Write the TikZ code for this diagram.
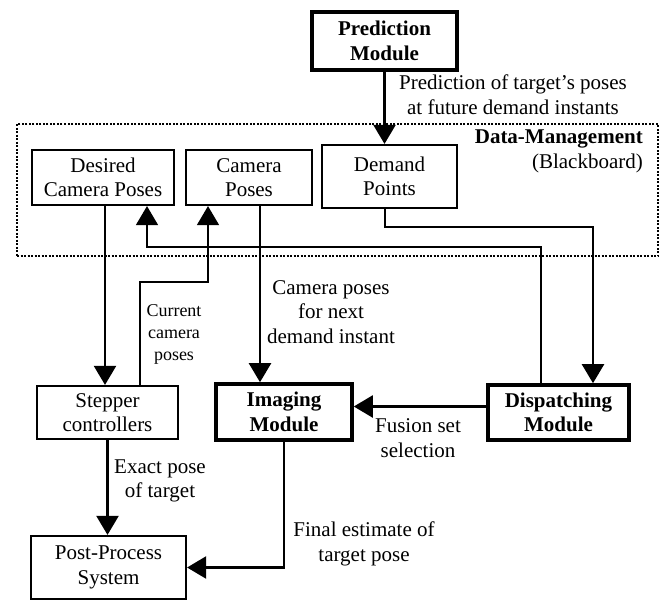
\documentclass[tikz,border=0pt]{standalone}
\usepackage{fontspec}
\setmainfont{Liberation Serif}
\usetikzlibrary{arrows.meta}
\newcommand{\mainf}{\fontsize{21}{24.5}\selectfont}
\newcommand{\smallf}{\fontsize{18}{22}\selectfont}
\tikzset{
  box/.style={draw, line width=2.2pt, align=center, font=\mainf, inner sep=0pt},
  thickbox/.style={box, line width=3.6pt, font=\mainf\bfseries},
  lbl/.style={align=center, font=\mainf, inner sep=0pt},
  smalllbl/.style={align=center, font=\smallf, inner sep=0pt},
  conn/.style={line width=2.2pt, -{Triangle[length=19pt,width=22pt]}},
  thinconn/.style={line width=1.5pt, -{Triangle[length=19pt,width=22pt]}},
  dotbox/.style={draw, line width=2.5pt, dash pattern=on 2pt off 1.5pt, inner sep=0pt}
}
\begin{document}
\begin{tikzpicture}[x=1pt,y=-1pt]
\useasboundingbox (0,0) rectangle (665,600);
% container
\node (dm) [dotbox, minimum width=641pt, minimum height=132pt] at (337.5,190) {};
\node (dmt) [lbl, anchor=east, font=\mainf\bfseries] at (643,139) {Data-Management};
\node (dmb) [lbl, anchor=east] at (643,163) {(Blackboard)};
% nodes
\node (pred) [thickbox, minimum width=145pt, minimum height=58pt] at (384.5,41) {Prediction\\Module};
\node (desired) [box, minimum width=142pt, minimum height=55pt] at (103,177.5) {Desired\\Camera Poses};
\node (camera) [box, minimum width=126pt, minimum height=55pt] at (249,177.5) {Camera\\Poses};
\node (demand) [box, minimum width=135pt, minimum height=63pt] at (389.5,176.5) {Demand\\Points};
\node (stepper) [box, minimum width=141pt, minimum height=53pt] at (107.5,412.5) {Stepper\\controllers};
\node (imaging) [thickbox, minimum width=136pt, minimum height=56pt] at (284,412) {Imaging\\Module};
\node (dispatch) [thickbox, minimum width=141pt, minimum height=55pt] at (558.5,412.5) {Dispatching\\Module};
\node (post) [box, minimum width=155pt, minimum height=63pt] at (108.5,567.5) {Post-Process\\System};
% bend points
\coordinate (c1) at (208,282);
\coordinate (c2) at (147,247);
\coordinate (c3) at (593,227);
% connectors
\draw[conn] (pred.south) -- (pred.south |- demand.north);
\draw[conn] ([xshift=2pt]desired.south) -- ([xshift=2pt]desired.south |- stepper.north);
\draw[conn] ([xshift=11pt]camera.south) -- ([xshift=11pt]camera.south |- imaging.north);
\draw[thinconn] ([xshift=32.5pt]stepper.north) |- (c1) -- (c1 |- camera.south);
\draw[thinconn] ([xshift=-17.5pt]dispatch.north) |- (c2) -- (c2 |- desired.south);
\draw[conn] ([xshift=-4.5pt]demand.south) |- (c3) -- (c3 |- dispatch.north);
\draw[conn] ([yshift=6pt]dispatch.west) -- ([yshift=6pt]dispatch.west -| imaging.east);
\draw[conn] (imaging.south) |- (post.east);
\draw[conn] (stepper.south) -- (stepper.south |- post.north);
% labels
\node (l1) [lbl] at (513,94.5) {Prediction of target's poses\\at future demand instants};
\node (l2) [smalllbl] at (174,334) {Current\\camera\\poses};
\node (l3) [lbl] at (331,312) {Camera poses\\for next\\demand instant};
\node (l4) [lbl] at (418,438) {Fusion set\\selection};
\node (l5) [lbl] at (160,481) {Exact pose\\of target};
\node (l6) [lbl] at (364,544) {Final estimate of\\target pose};
\end{tikzpicture}
\end{document}
